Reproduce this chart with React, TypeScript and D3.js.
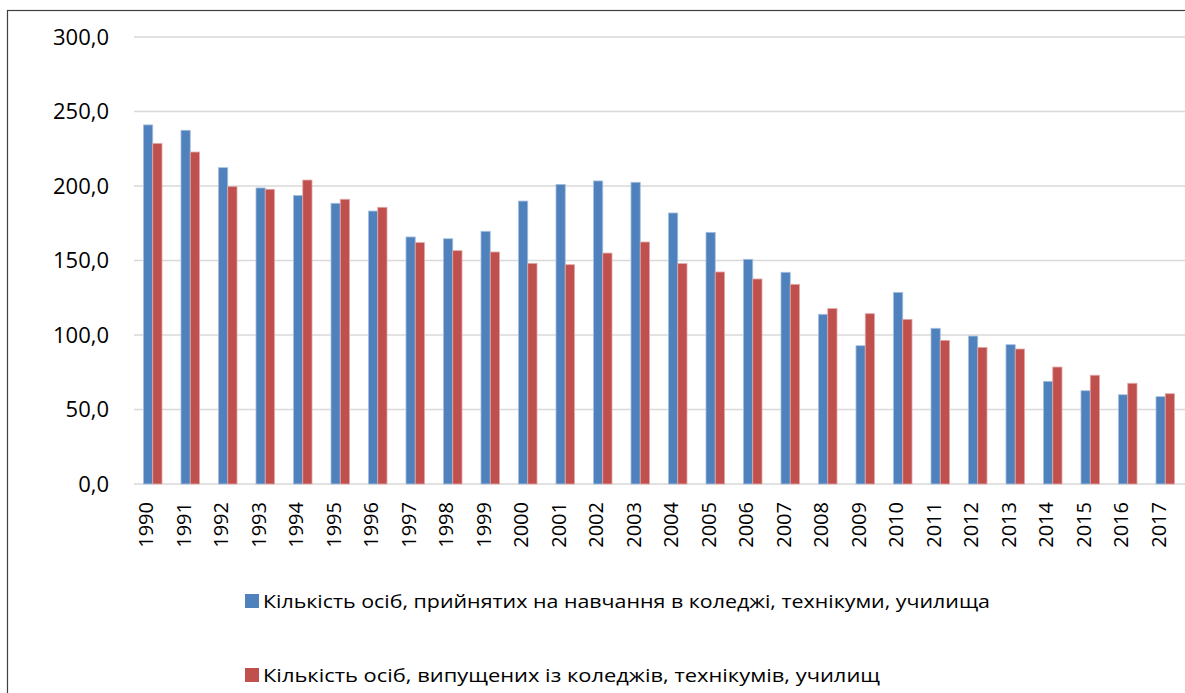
import React, { useEffect, useRef } from 'react';
import * as d3 from 'd3';

const years = [
  '1990', '1991', '1992', '1993', '1994', '1995', '1996', '1997', '1998', '1999',
  '2000', '2001', '2002', '2003', '2004', '2005', '2006', '2007', '2008', '2009',
  '2010', '2011', '2012', '2013', '2014', '2015', '2016', '2017',
];

// прийнято на навчання, тис. осіб
const admitted = [
  241.0, 237.4, 212.3, 198.7, 193.7, 188.4, 183.2, 165.8, 164.6, 169.6,
  189.9, 201.1, 203.4, 202.5, 181.9, 168.9, 150.8, 142.1, 113.9, 92.8,
  128.6, 104.5, 99.3, 93.5, 68.9, 62.6, 59.9, 58.6,
];

// випущено, тис. осіб
const graduated = [
  228.6, 222.8, 199.6, 197.8, 204.0, 191.1, 185.7, 162.0, 156.6, 155.7,
  148.1, 147.2, 155.0, 162.4, 147.9, 142.3, 137.6, 134.0, 117.7, 114.3,
  110.5, 96.4, 91.7, 90.6, 78.5, 73.0, 67.6, 60.6,
];

const yTicks = [0, 50, 100, 150, 200, 250, 300];

const seriesNames = [
  'Кількість осіб, прийнятих на навчання в коледжі, технікуми, училища',
  'Кількість осіб, випущених із коледжів, технікумів, училищ',
];
const seriesColors = ['#4F81BD', '#C0504D'];
const seriesStroke = ['#A7C0DE', '#E0A9A7'];

const W = 1185;
const H = 693;
const FONT = '"Open Sans", "Noto Sans", sans-serif';

const App: React.FC = () => {
  const ref = useRef<SVGSVGElement | null>(null);

  useEffect(() => {
    if (!ref.current) return;
    const svg = d3.select<SVGSVGElement, unknown>(ref.current);
    svg.selectAll('*').remove();

    const left = 134;
    const right = 1184;
    const top = 37;
    const bottom = 484;

    const x0 = d3.scaleBand<string>().domain(years).range([left, right]).paddingInner(0).paddingOuter(0);
    const bw = x0.bandwidth();
    const x1 = d3.scaleBand<number>().domain([0, 1]).range([bw * 0.253, bw * 0.747]);
    const y = d3.scaleLinear().domain([0, 300]).range([bottom, top]);

    // outer frame
    svg.append('rect')
      .attr('x', 7.5).attr('y', 10.5)
      .attr('width', W + 10).attr('height', H + 10)
      .attr('fill', '#fff')
      .attr('stroke', '#404040')
      .attr('stroke-width', 1.2);

    // gridlines
    svg.append('g')
      .selectAll('line')
      .data(yTicks)
      .enter()
      .append('line')
      .attr('x1', left).attr('x2', right + 2)
      .attr('y1', (d: number) => y(d)).attr('y2', (d: number) => y(d))
      .attr('stroke', '#D9D9D9')
      .attr('stroke-width', 1.5);

    // y labels
    svg.append('g')
      .selectAll('text')
      .data(yTicks)
      .enter()
      .append('text')
      .attr('x', 109)
      .attr('y', (d: number) => y(d))
      .attr('dy', '0.36em')
      .attr('text-anchor', 'end')
      .attr('font-family', FONT)
      .attr('font-size', 22)
      .attr('fill', '#000')
      .text((d: number) => d.toFixed(1).replace('.', ','));

    // bars
    const series = [admitted, graduated];
    series.forEach((vals, si) => {
      svg.append('g')
        .selectAll('rect')
        .data(vals)
        .enter()
        .append('rect')
        .attr('x', (_d: number, i: number) => (x0(years[i]) as number) + (x1(si) as number))
        .attr('y', (d: number) => y(d))
        .attr('width', x1.bandwidth())
        .attr('height', (d: number) => bottom - y(d))
        .attr('fill', seriesColors[si])
        .attr('stroke', seriesStroke[si])
        .attr('stroke-width', 0.8);
    });

    // x labels
    svg.append('g')
      .selectAll('text')
      .data(years)
      .enter()
      .append('text')
      .attr('transform', (d: string) => `translate(${(x0(d) as number) + bw / 2 + 0.5}, 502) rotate(-90)`)
      .attr('text-anchor', 'end')
      .attr('font-family', FONT)
      .attr('font-size', 20)
      .attr('fill', '#000')
      .text((d: string) => d);

    // legend
    const legendRows = [{ y: 594, end: 990 }, { y: 668, end: 880 }];
    const legend = svg.append('g');
    legendRows.forEach((row, i) => {
      legend.append('rect')
        .attr('x', 245).attr('y', row.y)
        .attr('width', 14).attr('height', 14)
        .attr('fill', seriesColors[i]);
      legend.append('text')
        .attr('x', 263)
        .attr('y', row.y + 14)
        .attr('font-family', FONT)
        .attr('font-size', 19)
        .attr('fill', '#000')
        .attr('textLength', row.end - 263)
        .attr('lengthAdjust', 'spacingAndGlyphs')
        .text(seriesNames[i]);
    });
  }, []);

  return (
    <svg
      ref={ref}
      width={W}
      height={H}
      style={{ position: 'absolute', left: 0, top: 0, background: '#fff' }}
    />
  );
};

export default App;
